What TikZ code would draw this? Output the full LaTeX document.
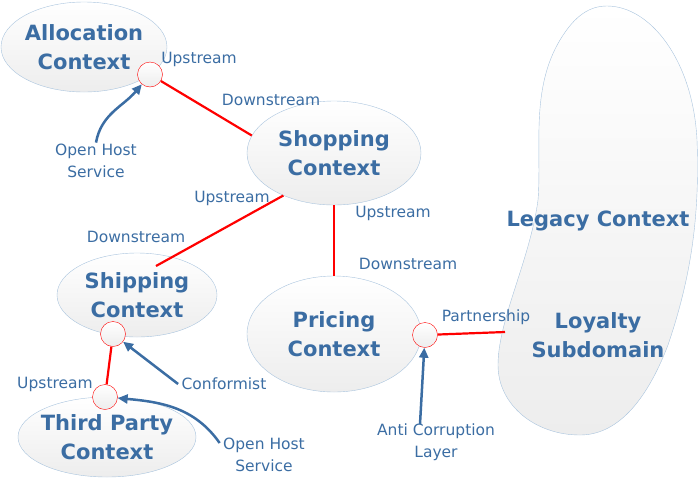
\documentclass[tikz,border=0pt]{standalone}
\usepackage{fontspec}
\setmainfont{DejaVu Sans}
\usetikzlibrary{shapes.geometric,arrows.meta}
\definecolor{txtblue}{HTML}{3B6DA3}
\definecolor{ctxline}{HTML}{A9C4DE}
\definecolor{ctxgray}{HTML}{EDEDED}

\begin{document}
\begin{tikzpicture}[x=1pt,y=1pt,
  ctx/.style={ellipse,draw=ctxline,top color=white,bottom color=ctxgray,inner sep=0pt},
  ctxtext/.style={align=center,text=txtblue,font=\bfseries\fontsize{21}{29}\selectfont},
  rel/.style={align=center,text=txtblue,font=\fontsize{15.5}{22}\selectfont},
  port/.style={circle,draw=red,top color=white,bottom color=ctxgray,minimum size=25pt,inner sep=0pt},
  redline/.style={red,line width=2.2pt},
  pattern/.style={txtblue,line width=2.5pt,-{Triangle[length=10pt,width=9pt]}}]
\useasboundingbox (0,0) rectangle (700,-485);

% legacy blob
\draw[ctxline,top color=white,bottom color=ctxgray]
(607,-6) .. controls (650,-6) and (693,-60) .. (697,-140)
 .. controls (700,-220) and (690,-280) .. (668,-345)
 .. controls (645,-405) and (615,-435) .. (580,-435)
 .. controls (535,-435) and (498,-405) .. (498,-365)
 .. controls (498,-320) and (530,-260) .. (538,-200)
 .. controls (542,-150) and (530,-90) .. (560,-40)
 .. controls (575,-15) and (590,-6) .. (607,-6) -- cycle;
\coordinate (loyaltyedge) at (505,-332);

% contexts
\node[ctx,minimum width=166,minimum height=90] (alloc) at (84,-47) {};
\node[ctx,minimum width=174,minimum height=104] (shopping) at (334,-153) {};
\node[ctx,minimum width=160,minimum height=84] (shipping) at (137,-295) {};
\node[ctx,minimum width=178,minimum height=80] (third) at (107,-437) {};
\node[ctx,minimum width=174,minimum height=116] (pricing) at (334,-334) {};

% ports
\node[port] (allocup) at (150,-74.5) {};
\node[port] (shipcirc) at (113,-334) {};
\node[port] (thirdcirc) at (105,-397) {};
\node[port] (pricecirc) at (425,-335) {};

% relations
\draw[redline] (allocup) -- (shopping.168);
\draw[redline] (shopping.220) -- ([xshift=19pt,yshift=29pt]shipping.center);
\draw[redline] (shopping.south) -- (pricing.north);
\draw[redline] (shipcirc) -- (thirdcirc);
\draw[redline] (pricecirc) -- (loyaltyedge);

% texts
\node[ctxtext] at (alloc) {Allocation\\Context};
\node[ctxtext] at (shopping) {Shopping\\Context};
\node[ctxtext] at (shipping) {Shipping\\Context};
\node[ctxtext] at (third) {Third Party\\Context};
\node[ctxtext] at (pricing) {Pricing\\Context};
\node[ctxtext] (legacy) at (598,-221) {Legacy Context};
\node[ctxtext] (loyalty) at (598,-335) {Loyalty\\Subdomain};

\node[rel] (up1) at (199,-59) {Upstream};
\node[rel] (down1) at (271,-100) {Downstream};
\node[rel] (up2) at (232,-198) {Upstream};
\node[rel] (down2) at (136,-237) {Downstream};
\node[rel] (up3) at (393,-213) {Upstream};
\node[rel] (down3) at (408,-264) {Downstream};
\node[rel] (partner) at (486,-317) {Partnership};
\node[rel] (up4) at (55,-384) {Upstream};
\node[rel] (ohs1) at (96,-161) {Open Host\\Service};
\node[rel] (conf) at (224,-384) {Conformist};
\node[rel] (ohs2) at (264,-455) {Open Host\\Service};
\node[rel] (acl) at (436,-442) {Anti Corruption\\Layer};

% patterns
\draw[pattern] ([yshift=-2pt]ohs1.north) to[out=80,in=230] (allocup);
\draw[pattern] (conf.west) -- (shipcirc);
\draw[pattern] ([yshift=12pt]ohs2.west) to[out=125,in=-5] (thirdcirc);
\draw[pattern] ([xshift=-16pt,yshift=-4pt]acl.north) -- (pricecirc);
\end{tikzpicture}
\end{document}
